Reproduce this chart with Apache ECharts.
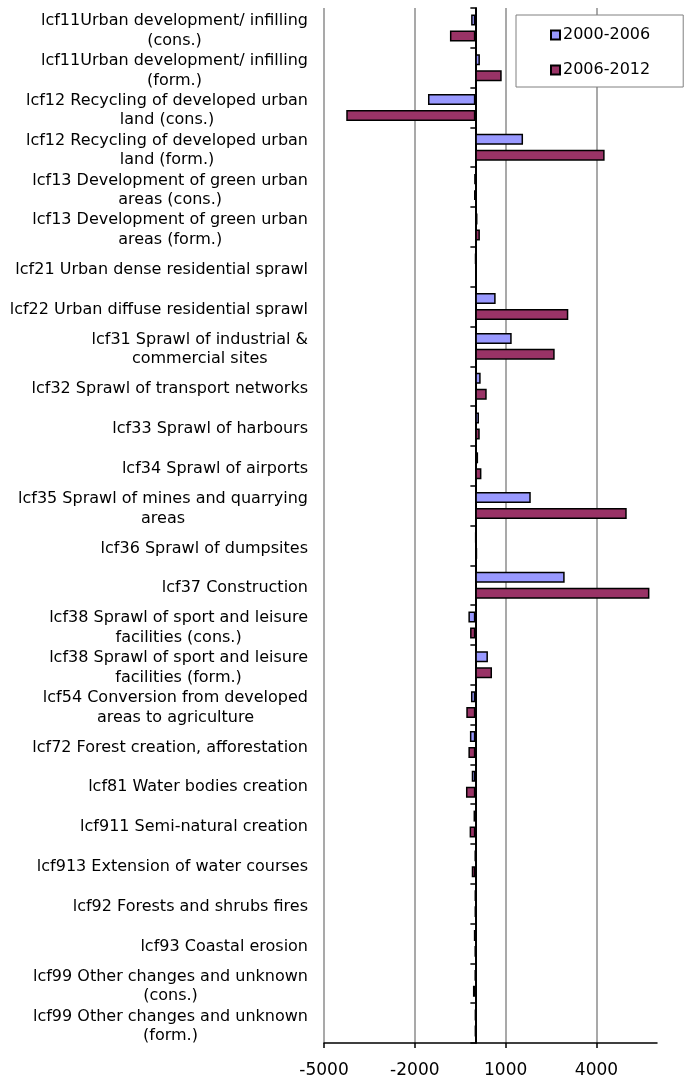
<!DOCTYPE html>
<html><head><meta charset="utf-8">
<script src="https://cdn.jsdelivr.net/npm/echarts@6/dist/echarts.min.js"></script>
<style>html,body{margin:0;padding:0;background:#fff}#c{width:685px;height:1079px}</style>
</head><body><div id="c"></div>
<script>
const categories = [
  'lcf11Urban development/ infilling\n(cons.)',
  'lcf11Urban development/ infilling\n(form.)',
  'lcf12 Recycling of developed urban\nland (cons.)',
  'lcf12 Recycling of developed urban\nland (form.)',
  'lcf13 Development of green urban\nareas (cons.)',
  'lcf13 Development of green urban\nareas (form.)',
  'lcf21 Urban dense residential sprawl',
  'lcf22 Urban diffuse residential sprawl',
  'lcf31 Sprawl of industrial &\ncommercial sites',
  'lcf32 Sprawl of transport networks',
  'lcf33 Sprawl of harbours',
  'lcf34 Sprawl of airports',
  'lcf35 Sprawl of mines and quarrying\nareas',
  'lcf36 Sprawl of dumpsites',
  'lcf37 Construction',
  'lcf38 Sprawl of sport and leisure\nfacilities (cons.)',
  'lcf38 Sprawl of sport and leisure\nfacilities (form.)',
  'lcf54 Conversion from developed\nareas to agriculture',
  'lcf72 Forest creation, afforestation',
  'lcf81 Water bodies creation',
  'lcf911 Semi-natural creation',
  'lcf913 Extension of water courses',
  'lcf92 Forests and shrubs fires',
  'lcf93 Coastal erosion',
  'lcf99 Other changes and unknown\n(cons.)',
  'lcf99 Other changes and unknown\n(form.)'
];
const seriesNames = ['2000-2006', '2006-2012'];
const values2000_2006 = [-140, 150, -1565, 1575, -30, 70, 10, 670, 1200, 175, 120, 90, 1830, 20, 2950, -230, 415, -145, -180, -120, -60, -10, -5, -50, -10, 0];
const values2006_2012 = [-840, 870, -4265, 4270, -40, 150, 40, 3070, 2620, 375, 145, 200, 5000, 60, 5750, -175, 550, -300, -230, -310, -190, -120, -5, -10, -80, 0];
const xTickValues = [-5000, -2000, 1000, 4000];
const xMin = -5000, xMax = 6000, xInterval = 3000;

const FONT = 'DejaVu Sans';
const chart = echarts.init(document.getElementById('c'), null, {renderer: 'canvas'});

const barStyle = (color) => ({color: color, borderColor: '#000', borderWidth: 1.5});

chart.setOption({
  animation: false,
  backgroundColor: '#fff',
  textStyle: {fontFamily: FONT},
  grid: {left: 324, top: 8, right: 28, bottom: 35, containLabel: false},
  legend: {
    orient: 'vertical',
    left: 516, top: 15,
    padding: [12, 33, 9, 34],
    itemGap: 19,
    itemWidth: 9, itemHeight: 9,
    icon: 'rect',
    backgroundColor: '#fff',
    borderColor: '#808080', borderWidth: 1,
    textStyle: {fontFamily: FONT, fontSize: 16, color: '#000', lineHeight: 16, padding: [0, 0, 0, -2]},
    data: seriesNames
  },
  xAxis: {
    type: 'value', min: xMin, max: xMax, interval: xInterval,
    position: 'bottom',
    axisLine: {show: true, onZero: false, lineStyle: {color: '#000', width: 1.5}},
    axisTick: {show: true, length: 5, customValues: xTickValues, lineStyle: {color: '#000', width: 1.5}},
    axisLabel: {customValues: xTickValues, formatter: (v) => String(v), fontFamily: FONT, fontSize: 17, color: '#000', margin: 19},
    splitLine: {show: true, lineStyle: {color: '#8c8c8c', width: 1.5}}
  },
  yAxis: [
    {
      type: 'category', data: categories, inverse: true, position: 'left',
      axisLine: {show: false, onZero: false},
      axisTick: {show: false},
      axisLabel: {
        interval: 0, showMinLabel: true, showMaxLabel: true, hideOverlap: false,
        margin: 16, color: '#000', fontFamily: FONT, fontSize: 16, lineHeight: 19.5,
        padding: [6, 0, 0, 0],
        formatter: (v) => v.split('\n').map(s => '{c|' + s + '}').join('\n'),
        rich: {c: {align: 'center', fontFamily: FONT, fontSize: 16, lineHeight: 19.5, color: '#000'}}
      },
      splitLine: {show: false}
    },
    {
      type: 'category', data: categories, inverse: true, position: 'right',
      axisLine: {show: true, onZero: true, lineStyle: {color: '#000', width: 2}},
      axisTick: {show: true, inside: true, length: 5, lineStyle: {color: '#000', width: 1.5}},
      axisLabel: {show: false},
      splitLine: {show: false}
    }
  ],
  series: [
    {name: seriesNames[0], type: 'bar', yAxisIndex: 0, data: values2000_2006, barWidth: 11, barGap: '45%', itemStyle: barStyle('#9999ff')},
    {name: seriesNames[1], type: 'bar', yAxisIndex: 0, data: values2006_2012, barWidth: 11, barGap: '45%', itemStyle: barStyle('#993366')}
  ]
});
</script>
</body></html>
